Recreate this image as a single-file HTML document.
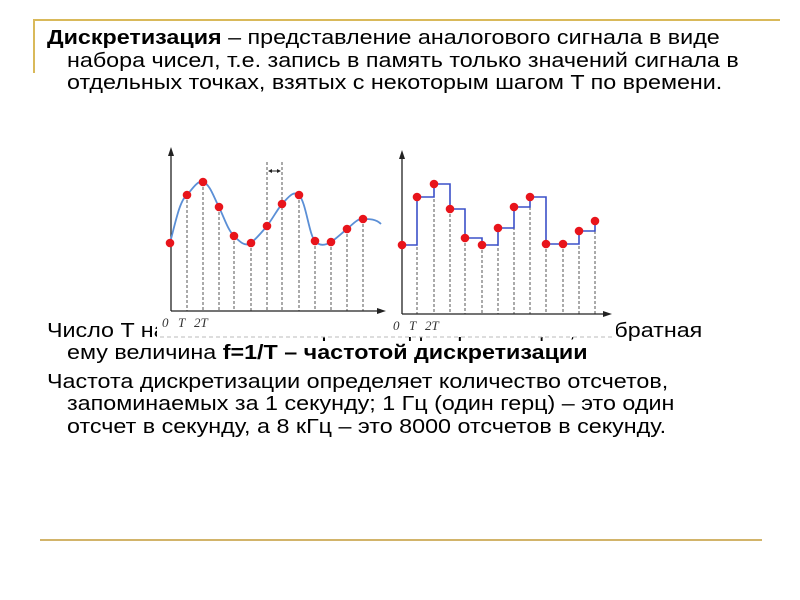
<!DOCTYPE html>
<html><head><meta charset="utf-8"><style>
body{margin:0;width:800px;height:600px;background:#fff;position:relative;overflow:hidden;font-family:"Liberation Sans",sans-serif;color:#000}
.t{position:absolute;font-size:20px;white-space:nowrap;line-height:22px;transform:scaleX(1.165);transform-origin:0 0}
</style></head><body>
<div style="position:absolute;left:33px;top:19px;width:747px;height:2px;background:#d9b95a"></div>
<div style="position:absolute;left:33px;top:19px;width:2px;height:54px;background:#d9b95a"></div>
<div style="position:absolute;left:40px;top:539px;width:722px;height:2px;background:#d2b46a"></div>

<div class="t" style="left:47px;top:27px"><b>Дискретизация</b> – представление аналогового сигнала в виде</div>
<div class="t" style="left:67px;top:50px">набора чисел, т.е. запись в память только значений сигнала в</div>
<div class="t" style="left:67px;top:72px">отдельных точках, взятых с некоторым шагом T по времени.</div>

<div class="t" style="left:47px;top:320px">Число T называется интервалом дискретизации, а обратная</div>
<div class="t" style="left:67px;top:342px">ему величина <b>f=1/T – частотой дискретизации</b></div>
<div class="t" style="left:47px;top:371px">Частота дискретизации определяет количество отсчетов,</div>
<div class="t" style="left:67px;top:393px">запоминаемых за 1 секунду; 1 Гц (один герц) – это один</div>
<div class="t" style="left:67px;top:416px">отсчет в секунду, а 8 кГц – это 8000 отсчетов в секунду.</div>

<svg width="800" height="600" style="position:absolute;left:0;top:0">
<rect x="157" y="140" width="459" height="197" fill="#fff"/>
<line x1="160" y1="337" x2="612" y2="337" stroke="#bbb" stroke-width="1" stroke-dasharray="4,3"/>
<g stroke="#555" stroke-width="1" stroke-dasharray="3,2">
<line x1="187" y1="195" x2="187" y2="311"/><line x1="203" y1="182" x2="203" y2="311"/>
<line x1="219" y1="207" x2="219" y2="311"/><line x1="234" y1="236" x2="234" y2="311"/>
<line x1="251" y1="243" x2="251" y2="311"/><line x1="267" y1="162" x2="267" y2="311"/>
<line x1="282" y1="162" x2="282" y2="311"/><line x1="299" y1="195" x2="299" y2="311"/>
<line x1="315" y1="241" x2="315" y2="311"/><line x1="331" y1="242" x2="331" y2="311"/>
<line x1="347" y1="229" x2="347" y2="311"/><line x1="363" y1="219" x2="363" y2="311"/>
<line x1="417" y1="197" x2="417" y2="314"/><line x1="434" y1="184" x2="434" y2="314"/>
<line x1="450" y1="209" x2="450" y2="314"/><line x1="465" y1="238" x2="465" y2="314"/>
<line x1="482" y1="245" x2="482" y2="314"/><line x1="498" y1="228" x2="498" y2="314"/>
<line x1="514" y1="207" x2="514" y2="314"/><line x1="530" y1="197" x2="530" y2="314"/>
<line x1="546" y1="244" x2="546" y2="314"/><line x1="563" y1="244" x2="563" y2="314"/>
<line x1="579" y1="231" x2="579" y2="314"/><line x1="595" y1="221" x2="595" y2="314"/>
</g>
<g stroke="#222" stroke-width="1.3" fill="#222">
<line x1="171" y1="311" x2="171" y2="152"/><polygon points="168,156 171,147 174,156" stroke="none"/>
<line x1="171" y1="311" x2="380" y2="311"/><polygon points="377,308 386,311 377,314" stroke="none"/>
<line x1="402" y1="314" x2="402" y2="155"/><polygon points="399,159 402,150 405,159" stroke="none"/>
<line x1="402" y1="314" x2="606" y2="314"/><polygon points="603,311 612,314 603,317" stroke="none"/>
<line x1="270" y1="171" x2="279" y2="171" stroke-width="1"/>
<polygon points="268,171 272,169 272,173" stroke="none"/><polygon points="281,171 277,169 277,173" stroke="none"/>
</g>
<path d="M170,243 C176,220 180,200 187,195 C193,188 198,180 203,182 C210,184 214,198 219,207 C225,220 228,230 234,236 C240,242 245,247 251,243 C257,238 262,232 267,226 C273,218 277,210 282,204 C288,198 293,190 299,195 C306,202 309,235 315,241 C320,247 326,245 331,242 C337,238 342,233 347,229 C353,224 358,218 363,219 C370,219 376,219 381,224" fill="none" stroke="#5b8fd6" stroke-width="1.8"/>
<path d="M402,245 H417 V197 H434 V184 H450 V209 H465 V238 H482 V245 H498 V228 H514 V207 H530 V197 H546 V244 H563 V244 H579 V231 H595 V221" fill="none" stroke="#3b50c8" stroke-width="1.6"/>
<g fill="#e8141b">
<circle cx="170" cy="243" r="4.3"/><circle cx="187" cy="195" r="4.3"/><circle cx="203" cy="182" r="4.3"/><circle cx="219" cy="207" r="4.3"/><circle cx="234" cy="236" r="4.3"/><circle cx="251" cy="243" r="4.3"/><circle cx="267" cy="226" r="4.3"/><circle cx="282" cy="204" r="4.3"/><circle cx="299" cy="195" r="4.3"/><circle cx="315" cy="241" r="4.3"/><circle cx="331" cy="242" r="4.3"/><circle cx="347" cy="229" r="4.3"/><circle cx="363" cy="219" r="4.3"/>
<circle cx="402" cy="245" r="4.3"/><circle cx="417" cy="197" r="4.3"/><circle cx="434" cy="184" r="4.3"/><circle cx="450" cy="209" r="4.3"/><circle cx="465" cy="238" r="4.3"/><circle cx="482" cy="245" r="4.3"/><circle cx="498" cy="228" r="4.3"/><circle cx="514" cy="207" r="4.3"/><circle cx="530" cy="197" r="4.3"/><circle cx="546" cy="244" r="4.3"/><circle cx="563" cy="244" r="4.3"/><circle cx="579" cy="231" r="4.3"/><circle cx="595" cy="221" r="4.3"/>
</g>
<g font-family="Liberation Serif, serif" font-style="italic" font-size="13" fill="#333">
<text x="162" y="327">0</text><text x="178" y="327">T</text><text x="194" y="327">2T</text>
<text x="393" y="330">0</text><text x="409" y="330">T</text><text x="425" y="330">2T</text>
</g>
</svg>
</body></html>
